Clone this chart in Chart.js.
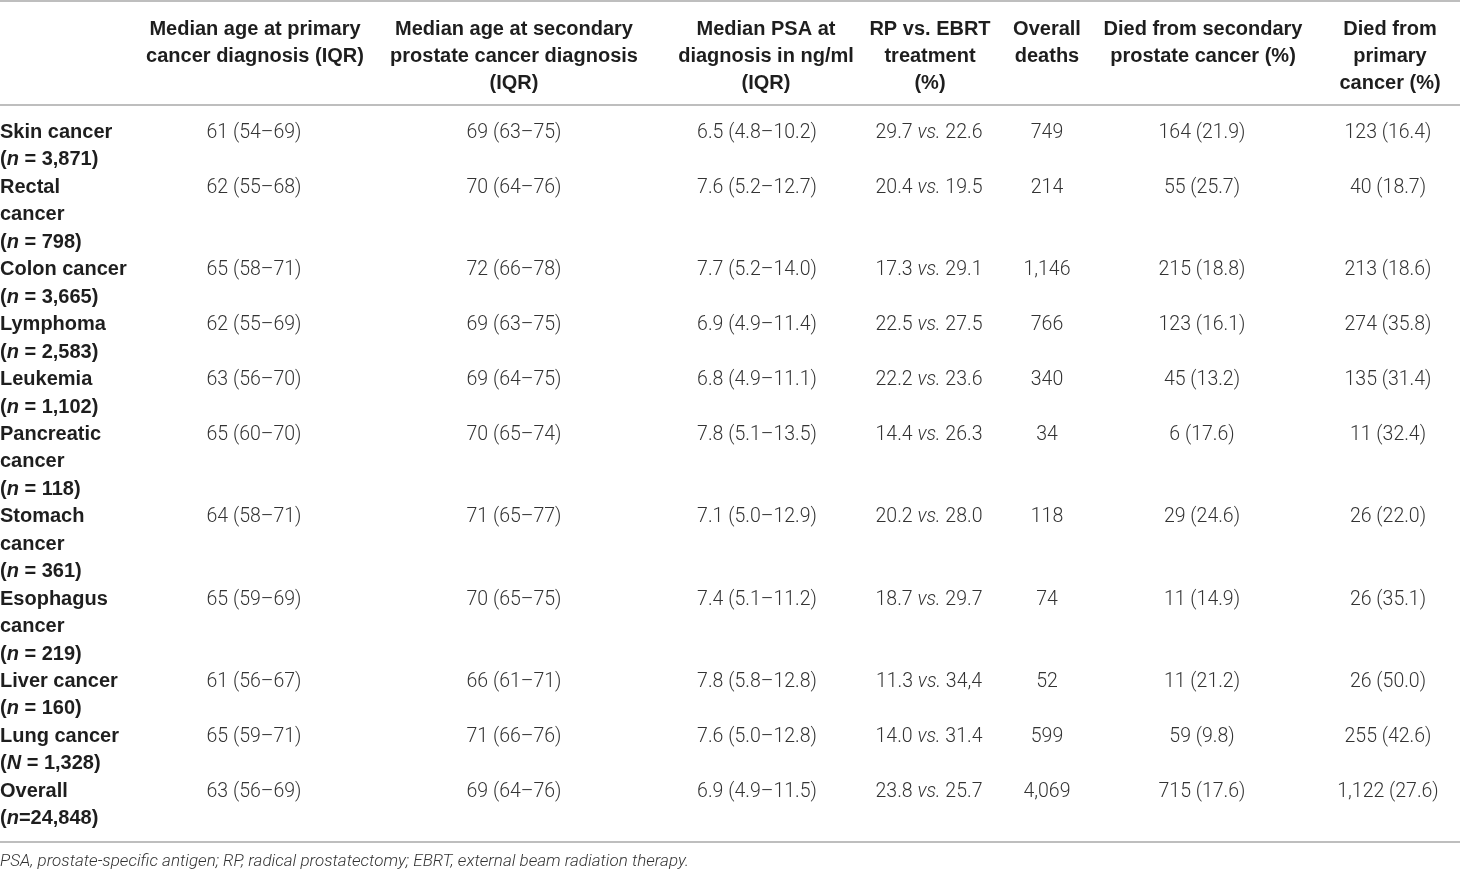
<!DOCTYPE html>
<html>
<head>
<meta charset="utf-8">
<script src="https://cdn.jsdelivr.net/npm/chart.js@4.4.1/dist/chart.umd.min.js"></script>
<style>
  html, body { margin: 0; padding: 0; background: #fff; }
  #wrap { width: 1460px; height: 873px; position: relative; }
</style>
</head>
<body>
<div id="wrap"><canvas id="tableChart"></canvas></div>
<script>
// --- table content ---
const headers = [
  ['Median age at primary', 'cancer diagnosis (IQR)'],
  ['Median age at secondary', 'prostate cancer diagnosis', '(IQR)'],
  ['Median PSA at', 'diagnosis in ng/ml', '(IQR)'],
  ['RP vs. EBRT', 'treatment', '(%)'],
  ['Overall', 'deaths'],
  ['Died from secondary', 'prostate cancer (%)'],
  ['Died from', 'primary', 'cancer (%)']
];

const rowNames = [
  ['Skin cancer'], ['Rectal', 'cancer'], ['Colon cancer'], ['Lymphoma'], ['Leukemia'],
  ['Pancreatic', 'cancer'], ['Stomach', 'cancer'], ['Esophagus', 'cancer'],
  ['Liver cancer'], ['Lung cancer'], ['Overall']
];
const nLetter = ['n', 'n', 'n', 'n', 'n', 'n', 'n', 'n', 'n', 'N', 'n'];
const nCount = ['3,871', '798', '3,665', '2,583', '1,102', '118', '361', '219', '160', '1,328', '24,848'];

const ageDx = ['61 (54–69)', '62 (55–68)', '65 (58–71)', '62 (55–69)', '63 (56–70)', '65 (60–70)',
  '64 (58–71)', '65 (59–69)', '61 (56–67)', '65 (59–71)', '63 (56–69)'];
const ageSecondary = ['69 (63–75)', '70 (64–76)', '72 (66–78)', '69 (63–75)', '69 (64–75)', '70 (65–74)',
  '71 (65–77)', '70 (65–75)', '66 (61–71)', '71 (66–76)', '69 (64–76)'];
const psaDx = ['6.5 (4.8–10.2)', '7.6 (5.2–12.7)', '7.7 (5.2–14.0)', '6.9 (4.9–11.4)', '6.8 (4.9–11.1)',
  '7.8 (5.1–13.5)', '7.1 (5.0–12.9)', '7.4 (5.1–11.2)', '7.8 (5.8–12.8)', '7.6 (5.0–12.8)', '6.9 (4.9–11.5)'];
const rpPct = ['29.7', '20.4', '17.3', '22.5', '22.2', '14.4', '20.2', '18.7', '11.3', '14.0', '23.8'];
const ebrtPct = ['22.6', '19.5', '29.1', '27.5', '23.6', '26.3', '28.0', '29.7', '34,4', '31.4', '25.7'];
const overallDeaths = ['749', '214', '1,146', '766', '340', '34', '118', '74', '52', '599', '4,069'];
const diedSecondary = ['164 (21.9)', '55 (25.7)', '215 (18.8)', '123 (16.1)', '45 (13.2)', '6 (17.6)',
  '29 (24.6)', '11 (14.9)', '11 (21.2)', '59 (9.8)', '715 (17.6)'];
const diedPrimary = ['123 (16.4)', '40 (18.7)', '213 (18.6)', '274 (35.8)', '135 (31.4)', '11 (32.4)',
  '26 (22.0)', '26 (35.1)', '26 (50.0)', '255 (42.6)', '1,122 (27.6)'];

const footnote = 'PSA, prostate-specific antigen; RP, radical prostatectomy; EBRT, external beam radiation therapy.';

// --- layout (page units, mapped through the chart scales) ---
const headCenters = [255, 514, 766, 930, 1047, 1203, 1390];
const bodyCenters = [254, 514, 757, 929, 1047, 1202, 1388];
const headBase = 35, headPitch = 27;
const bodyBase = 138, bodyPitch = 27.45;
const rules = [1, 105, 842];
const footBase = 866;

const FONT_HEAD = 'bold 20px "Liberation Sans", Arial, sans-serif';
const FONT_HEAD_I = 'italic bold 20px "Liberation Sans", Arial, sans-serif';
const FONT_BODY = '300 19.5px Roboto, "Liberation Sans", sans-serif';
const FONT_BODY_I = 'italic 300 19.5px Roboto, "Liberation Sans", sans-serif';
const FONT_FOOT = 'italic 300 17px Roboto, "Liberation Sans", sans-serif';

// draw a run of [text, font] pieces, centred or left-aligned at x
function drawRun(ctx, pieces, x, y, align) {
  let total = 0;
  pieces.forEach(p => { ctx.font = p[1]; total += ctx.measureText(p[0]).width; });
  let cx = align === 'center' ? x - total / 2 : x;
  ctx.textAlign = 'left';
  pieces.forEach(p => {
    ctx.font = p[1];
    ctx.fillText(p[0], cx, y);
    cx += ctx.measureText(p[0]).width;
  });
}

const tablePlugin = {
  id: 'tablePlugin',
  afterDraw(chart) {
    const { ctx, scales: { x, y } } = chart;
    ctx.save();
    ctx.textBaseline = 'alphabetic';

    // rules
    ctx.strokeStyle = '#a9a9a9';
    ctx.lineWidth = 1.6;
    rules.forEach(r => {
      const py = y.getPixelForValue(r);
      ctx.beginPath();
      ctx.moveTo(x.getPixelForValue(0), py);
      ctx.lineTo(x.getPixelForValue(1460), py);
      ctx.stroke();
    });

    // header
    ctx.fillStyle = '#1e1e1e';
    headers.forEach((lines, c) => {
      lines.forEach((t, k) => {
        drawRun(ctx, [[t, FONT_HEAD]], x.getPixelForValue(headCenters[c]),
          y.getPixelForValue(headBase + k * headPitch), 'center');
      });
    });

    // body
    const cols = [ageDx, ageSecondary, psaDx, null, overallDeaths, diedSecondary, diedPrimary];
    let line = 0;
    rowNames.forEach((name, r) => {
      const py = y.getPixelForValue(bodyBase + line * bodyPitch);
      ctx.fillStyle = '#1e1e1e';
      name.forEach((t, k) => {
        drawRun(ctx, [[t, FONT_HEAD]], x.getPixelForValue(0),
          y.getPixelForValue(bodyBase + (line + k) * bodyPitch), 'left');
      });
      const sep = r === rowNames.length - 1 ? '=' : ' = ';
      drawRun(ctx, [['(', FONT_HEAD], [nLetter[r], FONT_HEAD_I], [sep + nCount[r] + ')', FONT_HEAD]],
        x.getPixelForValue(0), y.getPixelForValue(bodyBase + (line + name.length) * bodyPitch), 'left');

      ctx.fillStyle = '#333333';
      cols.forEach((arr, c) => {
        const px = x.getPixelForValue(bodyCenters[c]);
        if (arr) {
          drawRun(ctx, [[arr[r], FONT_BODY]], px, py, 'center');
        } else {
          drawRun(ctx, [[rpPct[r] + ' ', FONT_BODY], ['vs.', FONT_BODY_I], [' ' + ebrtPct[r], FONT_BODY]],
            px, py, 'center');
        }
      });
      line += name.length + 1;
    });

    // footnote
    ctx.fillStyle = '#333333';
    drawRun(ctx, [[footnote, FONT_FOOT]], x.getPixelForValue(0), y.getPixelForValue(footBase), 'left');
    ctx.restore();
  }
};

new Chart(document.getElementById('tableChart'), {
  type: 'scatter',
  data: { datasets: [] },
  options: {
    responsive: true,
    maintainAspectRatio: false,
    animation: false,
    events: [],
    layout: { padding: 0 },
    plugins: { legend: { display: false }, tooltip: { enabled: false } },
    scales: {
      x: { type: 'linear', min: 0, max: 1460, display: false },
      y: { type: 'linear', min: 0, max: 873, reverse: true, display: false }
    }
  },
  plugins: [tablePlugin]
});
</script>
</body>
</html>
